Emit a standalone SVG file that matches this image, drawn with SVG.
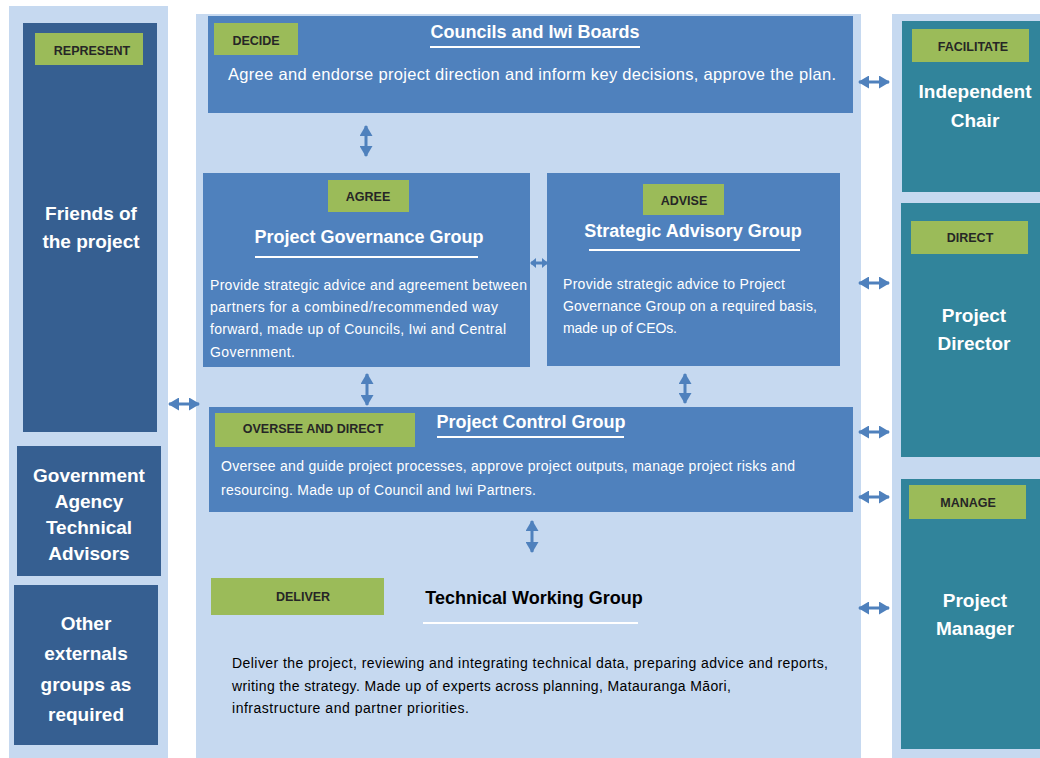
<svg xmlns="http://www.w3.org/2000/svg" width="1040" height="758" viewBox="0 0 1040 758">
<defs>
<marker id="ah" markerUnits="userSpaceOnUse" markerWidth="11" markerHeight="13" viewBox="0 0 11 13" refX="10" refY="6.5" orient="auto-start-reverse"><path d="M0,0 L11,6.5 L0,13 Z" fill="#4f81bd"/></marker>
<marker id="ahs" markerUnits="userSpaceOnUse" markerWidth="6" markerHeight="10" viewBox="0 0 6 10" refX="5" refY="5" orient="auto-start-reverse"><path d="M0,0 L6,5 L0,10 Z" fill="#4f81bd"/></marker>
<style>
.bg{fill:#c6d9f0}
.mid{fill:#4f81bd}
.dark{fill:#365f91}
.teal{fill:#31849b}
.lab{fill:#9bbb59}
.lt{font-family:"Liberation Sans",Arial,sans-serif;font-weight:bold;font-size:12.5px;fill:#262626;text-anchor:middle}
.ttl{font-family:"Liberation Sans",Arial,sans-serif;font-weight:bold;font-size:18px;fill:#ffffff;text-anchor:middle}
.side{font-family:"Liberation Sans",Arial,sans-serif;font-weight:bold;font-size:19px;fill:#ffffff;text-anchor:middle}
.body{font-family:"Liberation Sans",Arial,sans-serif;font-size:14px;fill:#ffffff}
.dbody{font-family:"Liberation Sans",Arial,sans-serif;font-size:14px;fill:#000000}
.ul{stroke:#ffffff;stroke-width:2}
.con{stroke:#4f81bd;stroke-width:3;fill:none}
</style>
</defs>
<rect width="1040" height="758" fill="#ffffff"/>
<rect class="bg" x="9" y="6" width="159" height="752"/>
<rect class="bg" x="196" y="14" width="665" height="744"/>
<rect class="bg" x="892" y="14" width="148" height="744"/>

<g id="friends">
<rect class="dark" x="23" y="23" width="134" height="409"/>
<rect class="lab" x="35" y="33" width="108" height="32"/>
<text class="lt" x="92" y="55">REPRESENT</text>
<text class="side" x="91" y="220">Friends of</text>
<text class="side" x="91" y="248">the project</text>
</g>
<g id="gov-agency">
<rect class="dark" x="17" y="446" width="144" height="130"/>
<text class="side" x="89" y="482">Government</text>
<text class="side" x="89" y="508">Agency</text>
<text class="side" x="89" y="534">Technical</text>
<text class="side" x="89" y="560">Advisors</text>
</g>
<g id="other-externals">
<rect class="dark" x="14" y="585" width="144" height="160"/>
<text class="side" x="86" y="630">Other</text>
<text class="side" x="86" y="660">externals</text>
<text class="side" x="86" y="691">groups as</text>
<text class="side" x="86" y="721">required</text>
</g>

<g id="councils">
<rect class="mid" x="208" y="16" width="645" height="97"/>
<rect class="lab" x="214" y="23" width="84" height="32"/>
<text class="lt" x="256" y="45">DECIDE</text>
<text class="ttl" x="535" y="38">Councils and Iwi Boards</text>
<line class="ul" x1="430" y1="47" x2="640" y2="47"/>
<text class="body" x="228" y="80" style="font-size:16.5px" textLength="608">Agree and endorse project direction and inform key decisions, approve the plan.</text>
</g>

<g id="pgg">
<rect class="mid" x="203" y="173" width="327" height="194"/>
<rect class="lab" x="328" y="180" width="81" height="32"/>
<text class="lt" x="368" y="201">AGREE</text>
<text class="ttl" x="369" y="243">Project Governance Group</text>
<line class="ul" x1="255" y1="257" x2="478" y2="257"/>
<text class="body" x="210" y="290" textLength="317">Provide strategic advice and agreement between</text>
<text class="body" x="210" y="312" textLength="288">partners for a combined/recommended way</text>
<text class="body" x="210" y="334" textLength="296">forward, made up of Councils, Iwi and Central</text>
<text class="body" x="210" y="357" textLength="85">Government.</text>
</g>

<g id="sag">
<rect class="mid" x="547" y="173" width="293" height="193"/>
<rect class="lab" x="643" y="184" width="81" height="31"/>
<text class="lt" x="684" y="205">ADVISE</text>
<text class="ttl" x="693" y="237">Strategic Advisory Group</text>
<line class="ul" x1="589" y1="250" x2="800" y2="250"/>
<text class="body" x="563" y="289" textLength="222">Provide strategic advice to Project</text>
<text class="body" x="563" y="311" textLength="254">Governance Group on a required basis,</text>
<text class="body" x="563" y="333" textLength="114">made up of CEOs.</text>
</g>

<g id="pcg">
<rect class="mid" x="209" y="407" width="644" height="105"/>
<rect class="lab" x="215" y="413" width="200" height="34"/>
<text class="lt" x="313" y="433">OVERSEE AND DIRECT</text>
<text class="ttl" x="531" y="428">Project Control Group</text>
<line class="ul" x1="437" y1="437" x2="624" y2="437"/>
<text class="body" x="221" y="471" textLength="574">Oversee and guide project processes, approve project outputs, manage project risks and</text>
<text class="body" x="221" y="495" textLength="315">resourcing. Made up of Council and Iwi Partners.</text>
</g>

<g id="twg">
<rect class="lab" x="211" y="578" width="173" height="37"/>
<text class="lt" x="303" y="601">DELIVER</text>
<text class="ttl" x="534" y="604" style="fill:#000000">Technical Working Group</text>
<line class="ul" x1="423" y1="623" x2="638" y2="623"/>
<text class="dbody" x="232" y="668" textLength="596">Deliver the project, reviewing and integrating technical data, preparing advice and reports,</text>
<text class="dbody" x="232" y="691" textLength="499">writing the strategy. Made up of experts across planning, Matauranga Māori,</text>
<text class="dbody" x="232" y="713" textLength="237">infrastructure and partner priorities.</text>
</g>

<g id="chair">
<rect class="teal" x="902" y="21" width="138" height="171"/>
<rect class="lab" x="912" y="29" width="117" height="33"/>
<text class="lt" x="973" y="51">FACILITATE</text>
<text class="side" x="975" y="98">Independent</text>
<text class="side" x="975" y="127">Chair</text>
</g>
<g id="director">
<rect class="teal" x="901" y="203" width="139" height="254"/>
<rect class="lab" x="911" y="221" width="117" height="33"/>
<text class="lt" x="970" y="242">DIRECT</text>
<text class="side" x="974" y="322">Project</text>
<text class="side" x="974" y="350">Director</text>
</g>
<g id="manager">
<rect class="teal" x="901" y="479" width="139" height="270"/>
<rect class="lab" x="909" y="485" width="117" height="34"/>
<text class="lt" x="968" y="507">MANAGE</text>
<text class="side" x="975" y="607">Project</text>
<text class="side" x="975" y="635">Manager</text>
</g>

<g id="connectors">
<line class="con" x1="366" y1="126" x2="366" y2="156" marker-start="url(#ah)" marker-end="url(#ah)"/>
<line class="con" x1="367" y1="374" x2="367" y2="405" marker-start="url(#ah)" marker-end="url(#ah)"/>
<line class="con" x1="685" y1="374" x2="685" y2="403" marker-start="url(#ah)" marker-end="url(#ah)"/>
<line class="con" x1="532" y1="521" x2="532" y2="552" marker-start="url(#ah)" marker-end="url(#ah)"/>
<line class="con" x1="531" y1="263" x2="547" y2="263" marker-start="url(#ahs)" marker-end="url(#ahs)"/>
<line class="con" x1="169" y1="404" x2="199" y2="404" marker-start="url(#ah)" marker-end="url(#ah)"/>
<line class="con" x1="859" y1="82" x2="889" y2="82" marker-start="url(#ah)" marker-end="url(#ah)"/>
<line class="con" x1="859" y1="283" x2="889" y2="283" marker-start="url(#ah)" marker-end="url(#ah)"/>
<line class="con" x1="859" y1="432" x2="889" y2="432" marker-start="url(#ah)" marker-end="url(#ah)"/>
<line class="con" x1="859" y1="497" x2="889" y2="497" marker-start="url(#ah)" marker-end="url(#ah)"/>
<line class="con" x1="859" y1="608" x2="889" y2="608" marker-start="url(#ah)" marker-end="url(#ah)"/>
</g>
</svg>
